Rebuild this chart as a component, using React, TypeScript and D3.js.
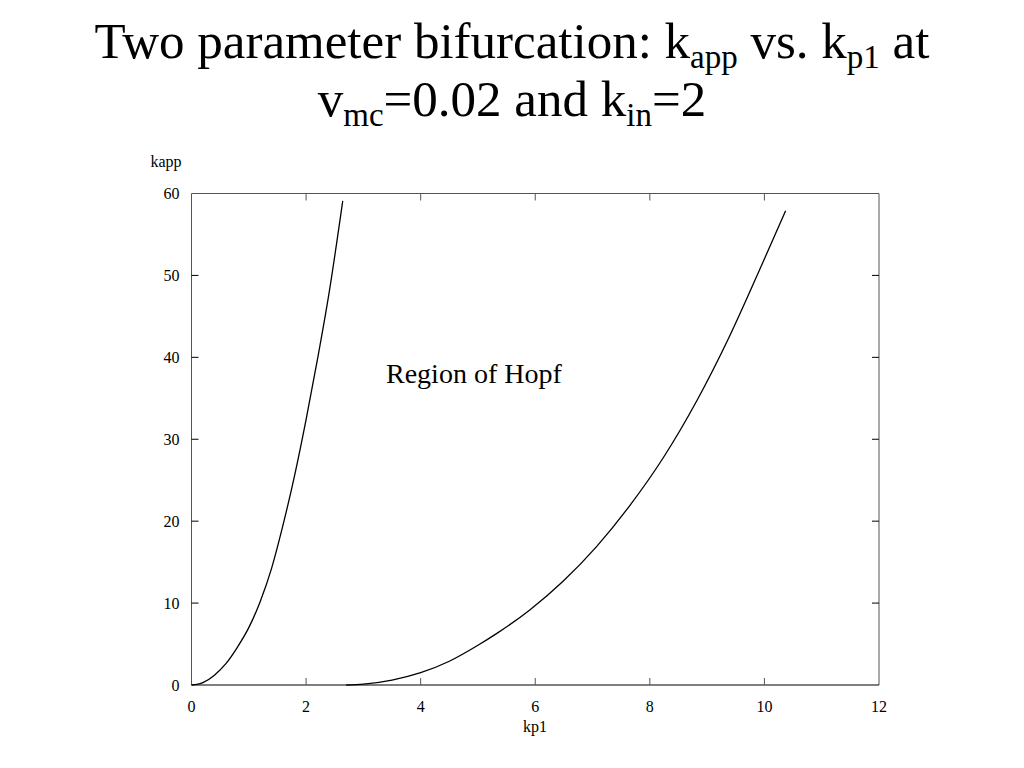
import React from "react";
import * as d3 from "d3";

const xTicks = [0, 2, 4, 6, 8, 10, 12];
const yTicks = [0, 10, 20, 30, 40, 50, 60];

const curve1Kp1 = [0, 0.2, 0.4, 0.6, 0.8, 1.0, 1.2, 1.4, 1.6, 1.8, 2.0, 2.2, 2.4, 2.64];
const curve1Kapp = [0, 0.3, 1.2, 2.6, 4.6, 7.0, 10.2, 14.3, 19.6, 25.6, 32.4, 39.8, 47.8, 59.1];

const curve2Kp1 = [2.7, 3.0, 3.5, 4.0, 4.5, 5.0, 5.33, 5.91, 6.49, 7.07, 7.65, 8.24, 8.82, 9.4, 9.98, 10.37];
const curve2Kapp = [0, 0.1, 0.6, 1.5, 2.9, 4.85, 6.3, 9.2, 12.7, 16.9, 21.9, 27.8, 34.7, 42.7, 51.7, 57.9];

const serif = "'Liberation Serif', 'Times New Roman', serif";

export default function App() {
  const x = d3.scaleLinear().domain([0, 12]).range([191.5, 879]);
  const y = d3.scaleLinear().domain([0, 60]).range([685, 193.5]);
  const line = d3
    .line<[number, number]>()
    .x((d) => x(d[0]))
    .y((d) => y(d[1]))
    .curve(d3.curveMonotoneX);
  const c1 = curve1Kp1.map((v, i) => [v, curve1Kapp[i]] as [number, number]);
  const c2 = curve2Kp1.map((v, i) => [v, curve2Kapp[i]] as [number, number]);
  const tl = 7;
  const frame = "#555";
  const tfs = 51;
  const sfs = 33;
  return (
    <svg
      width={1024}
      height={768}
      style={{ position: "absolute", left: 0, top: 0, background: "#fff" }}
      fontFamily={serif}
    >
      <text x={512} y={58} textAnchor="middle" fontSize={tfs}>
        Two parameter bifurcation: k
        <tspan fontSize={sfs} dy={10}>app</tspan>
        <tspan dy={-10}> vs. k</tspan>
        <tspan fontSize={sfs} dy={10}>p1</tspan>
        <tspan dy={-10}> at</tspan>
      </text>
      <text x={512} y={116} textAnchor="middle" fontSize={tfs}>
        v
        <tspan fontSize={sfs} dy={10}>mc</tspan>
        <tspan dy={-10}>=0.02 and k</tspan>
        <tspan fontSize={sfs} dy={10}>in</tspan>
        <tspan dy={-10}>=2</tspan>
      </text>

      {/* frame */}
      <line x1={x(0)} x2={x(12)} y1={y(60)} y2={y(60)} stroke={frame} strokeWidth={1} />
      <line x1={x(0)} x2={x(0)} y1={y(0)} y2={y(60)} stroke={frame} strokeWidth={1} />
      <line x1={x(12)} x2={x(12)} y1={y(0)} y2={y(60)} stroke={frame} strokeWidth={1} />
      <line x1={x(0)} x2={x(12)} y1={y(0)} y2={y(0)} stroke="#000" strokeWidth={1.2} />

      {xTicks.map((t) => (
        <g key={"x" + t}>
          {t > 0 && t < 12 && (
            <>
              <line x1={x(t)} x2={x(t)} y1={y(0)} y2={y(0) - tl} stroke={frame} />
              <line x1={x(t)} x2={x(t)} y1={y(60)} y2={y(60) + tl} stroke={frame} />
            </>
          )}
          <text x={x(t)} y={y(0) + 27} textAnchor="middle" fontSize={16}>
            {t}
          </text>
        </g>
      ))}
      {yTicks.map((t) => (
        <g key={"y" + t}>
          {t > 0 && t < 60 && (
            <>
              <line x1={x(0)} x2={x(0) + tl} y1={y(t)} y2={y(t)} stroke="#000" />
              <line x1={x(12)} x2={x(12) - tl} y1={y(t)} y2={y(t)} stroke="#000" />
            </>
          )}
          <text x={x(0) - 12} y={y(t) + 5.5} textAnchor="end" fontSize={16}>
            {t}
          </text>
        </g>
      ))}

      <text x={166} y={167} textAnchor="middle" fontSize={16}>
        kapp
      </text>
      <text x={535} y={732} textAnchor="middle" fontSize={16}>
        kp1
      </text>

      <path d={line(c1) || ""} fill="none" stroke="#000" strokeWidth={1.3} />
      <path d={line(c2) || ""} fill="none" stroke="#000" strokeWidth={1.3} />

      <text x={386} y={383} fontSize={28}>
        Region of Hopf
      </text>
    </svg>
  );
}
